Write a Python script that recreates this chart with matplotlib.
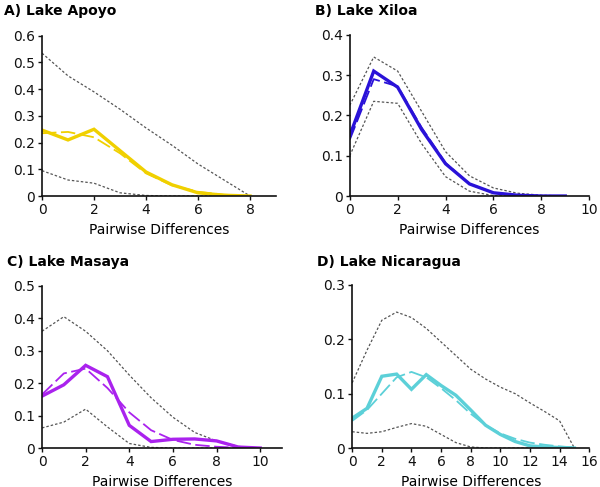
import matplotlib
matplotlib.use("Agg")
import matplotlib.pyplot as plt

plt.rcParams['font.family'] = ['DejaVu Sans']

# ---------------- data ----------------
# A) Lake Apoyo
apoyo_x = [0, 1, 2, 3, 4, 5, 6, 7, 8]
apoyo_obs = [0.247, 0.21, 0.25, 0.17, 0.09, 0.042, 0.012, 0.003, 0.0]
apoyo_exp = [0.235, 0.24, 0.22, 0.16, 0.085, 0.04, 0.016, 0.005, 0.0]
apoyo_hi = [0.535, 0.45, 0.39, 0.325, 0.255, 0.19, 0.12, 0.06, 0.0]
apoyo_lo = [0.095, 0.06, 0.048, 0.012, 0.002, 0.0, 0.0, 0.0, 0.0]

# B) Lake Xiloa
xiloa_x = [0, 1, 2, 3, 4, 5, 6, 7, 8, 9]
xiloa_obs = [0.15, 0.31, 0.27, 0.165, 0.08, 0.03, 0.008, 0.002, 0.0, 0.0]
xiloa_exp = [0.14, 0.29, 0.272, 0.17, 0.082, 0.03, 0.008, 0.002, 0.0, 0.0]
xiloa_hi = [0.225, 0.345, 0.31, 0.21, 0.11, 0.05, 0.02, 0.007, 0.002, 0.0]
xiloa_lo = [0.1, 0.235, 0.23, 0.13, 0.048, 0.012, 0.001, 0.0, 0.0, 0.0]

# C) Lake Masaya
masaya_x = [0, 1, 2, 3, 4, 5, 6, 7, 8, 9, 10]
masaya_obs = [0.16, 0.195, 0.255, 0.22, 0.07, 0.02, 0.027, 0.028, 0.022, 0.003, 0.0]
masaya_exp = [0.165, 0.23, 0.245, 0.185, 0.11, 0.055, 0.025, 0.01, 0.004, 0.001, 0.0]
masaya_hi = [0.36, 0.405, 0.36, 0.3, 0.225, 0.155, 0.095, 0.048, 0.022, 0.005, 0.0]
masaya_lo = [0.062, 0.08, 0.12, 0.065, 0.014, 0.002, 0.0, 0.0, 0.0, 0.0, 0.0]

# D) Lake Nicaragua
nica_x = [0, 1, 2, 3, 4, 5, 6, 7, 8, 9, 10, 11, 12, 13, 14, 15]
nica_obs = [0.055, 0.073, 0.132, 0.136, 0.108, 0.135, 0.115, 0.097, 0.07, 0.042,
            0.025, 0.012, 0.004, 0.002, 0.001, 0.0]
nica_exp = [0.05, 0.07, 0.1, 0.13, 0.14, 0.13, 0.11, 0.088, 0.063, 0.042,
            0.027, 0.017, 0.01, 0.006, 0.003, 0.001]
nica_hi = [0.12, 0.18, 0.235, 0.25, 0.24, 0.22, 0.195, 0.17, 0.145, 0.127,
           0.112, 0.1, 0.083, 0.067, 0.05, 0.0]
nica_lo = [0.03, 0.027, 0.03, 0.038, 0.045, 0.04, 0.025, 0.01, 0.002, 0.0,
           0.0, 0.0, 0.0, 0.0, 0.0, 0.0]

titles = ["A) Lake Apoyo", "B) Lake Xiloa", "C) Lake Masaya", "D) Lake Nicaragua"]
xlabel = "Pairwise Differences"

# ---------------- figure ----------------
fig = plt.figure(figsize=(6.0, 4.87), dpi=100)

panels = [
    dict(rect=[0.070, 0.5975, 0.390, 0.329], x=apoyo_x, obs=apoyo_obs, exp=apoyo_exp,
         hi=apoyo_hi, lo=apoyo_lo, color="#F0D000", xlim=9, xticks=[0, 2, 4, 6, 8],
         ylim=0.6, yticks=[0, 0.1, 0.2, 0.3, 0.4, 0.5, 0.6], title=titles[0],
         tpos=(4, 11)),
    dict(rect=[0.583, 0.5975, 0.399, 0.331], x=xiloa_x, obs=xiloa_obs, exp=xiloa_exp,
         hi=xiloa_hi, lo=xiloa_lo, color="#2A12D8", xlim=10, xticks=[0, 2, 4, 6, 8, 10],
         ylim=0.4, yticks=[0, 0.1, 0.2, 0.3, 0.4], title=titles[1], tpos=(315, 11)),
    dict(rect=[0.070, 0.080, 0.400, 0.333], x=masaya_x, obs=masaya_obs, exp=masaya_exp,
         hi=masaya_hi, lo=masaya_lo, color="#AA22EE", xlim=11, xticks=[0, 2, 4, 6, 8, 10],
         ylim=0.5, yticks=[0, 0.1, 0.2, 0.3, 0.4, 0.5], title=titles[2], tpos=(7, 262)),
    dict(rect=[0.587, 0.080, 0.395, 0.335], x=nica_x, obs=nica_obs, exp=nica_exp,
         hi=nica_hi, lo=nica_lo, color="#5CD0D8", xlim=16,
         xticks=[0, 2, 4, 6, 8, 10, 12, 14, 16],
         ylim=0.3, yticks=[0, 0.1, 0.2, 0.3], title=titles[3], tpos=(317, 262)),
]

for p in panels:
    ax = fig.add_axes(p["rect"])
    ax.plot(p["x"], p["hi"], color="#555555", lw=0.9, ls=(0, (2, 1.6)))
    ax.plot(p["x"], p["lo"], color="#555555", lw=0.9, ls=(0, (2, 1.6)))
    ax.plot(p["x"], p["exp"], color=p["color"], lw=1.3, ls=(0, (8, 2.5)))
    ax.plot(p["x"], p["obs"], color=p["color"], lw=2.4, solid_joinstyle="miter")
    ax.set_xlim(0, p["xlim"])
    ax.set_ylim(0, p["ylim"])
    ax.set_xticks(p["xticks"])
    ax.set_yticks(p["yticks"])
    ax.set_yticklabels(["0" if v == 0 else f"{v:.1f}" for v in p["yticks"]])
    for s in ["top", "right"]:
        ax.spines[s].set_visible(False)
    for s in ["left", "bottom"]:
        ax.spines[s].set_linewidth(1.2)
        ax.spines[s].set_color("#111111")
    ax.tick_params(direction="out", length=3, width=1, labelsize=10, pad=2,
                   colors="#111111")
    ax.set_xlabel(xlabel, fontsize=10, labelpad=4)
    ax.margins(0)
    fig.text(p["tpos"][0] / 600, 1 - p["tpos"][1] / 487, p["title"],
             fontsize=10, fontweight="bold", va="center", ha="left")

fig.savefig("out.png", dpi=100)
